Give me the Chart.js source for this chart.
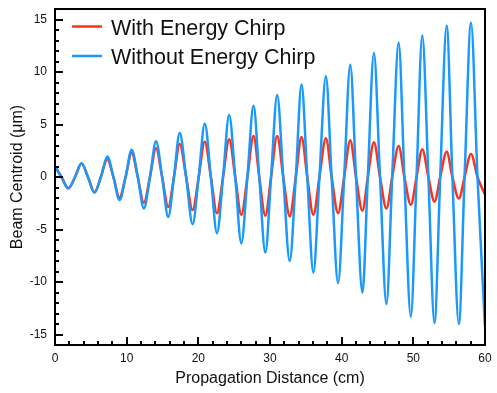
<!DOCTYPE html>
<html>
<head>
<meta charset="utf-8">
<script src="https://cdn.jsdelivr.net/npm/chart.js@4"></script>
<style>
  html, body { margin: 0; padding: 0; background: #fff; }
  #wrap { width: 497px; height: 393px; }
</style>
</head>
<body>
<div id="wrap"><canvas id="chart"></canvas></div>
<script>
// propagation distance (cm) at extrema and zero crossings
const distance = [0, 0.9, 1.86, 2.8, 3.7, 4.6, 5.5, 6.4, 7.3, 8.15,
  9.0, 9.85, 10.7, 11.55, 12.4, 13.25, 14.1, 14.95, 15.8, 16.6,
  17.4, 18.3, 19.2, 20.05, 20.9, 21.75, 22.6, 23.45, 24.3, 25.15,
  26.0, 26.85, 27.7, 28.5, 29.35, 30.15, 31.0, 31.85, 32.75, 33.6,
  34.4, 35.2, 36.05, 36.9, 37.8, 38.6, 39.5, 40.35, 41.2, 42.0,
  42.9, 43.65, 44.5, 45.35, 46.25, 47.05, 47.95, 48.75, 49.65, 50.45,
  51.25, 52.1, 52.95, 53.75, 54.65, 55.45, 56.35, 57.15, 58.05, 58.95, 60];

// beam centroid (um)
const withChirp = [1.0, 0, -1.08, 0, 1.28, 0, -1.45, 0, 1.7, 0,
  -1.97, 0, 2.3, 0, -2.45, 0, 2.75, 0, -2.85, 0,
  3.15, 0, -3.15, 0, 3.35, 0, -3.45, 0, 3.6, 0,
  -3.6, 0, 3.9, 0, -3.7, 0, 3.9, 0, -3.75, 0,
  3.8, 0, -3.6, 0, 3.7, 0, -3.45, 0, 3.5, 0,
  -3.2, 0, 3.3, 0, -3.0, 0, 2.95, 0, -2.65, 0,
  2.65, 0, -2.35, 0, 2.4, 0, -2.05, 0, 2.2, 0, -1.7];

const withoutChirp = [1.0, 0, -1.08, 0, 1.3, 0, -1.5, 0, 1.95, 0,
  -2.2, 0, 2.6, 0, -3.0, 0, 3.4, 0, -3.8, 0,
  4.2, 0, -4.5, 0, 5.1, 0, -5.35, 0, 5.9, 0,
  -6.3, 0, 6.8, 0, -7.2, 0, 7.8, 0, -8.0, 0,
  8.8, 0, -9.1, 0, 9.6, 0, -10.1, 0, 10.7, 0,
  -11.0, 0, 11.8, 0, -12.1, 0, 12.8, 0, -13.3, 0,
  13.5, 0, -13.9, 0, 14.4, 0, -14.0, 0, 14.7, 0, -14.3];

const yTicks = [-15, -10, -5, 0, 5, 10, 15];
const xTicks = [0, 10, 20, 30, 40, 50, 60];

const redColor = '#ff3219';
const blueColor = '#1a98fc';
const fontFamily = '"Liberation Sans", Arial, Helvetica, sans-serif';

function toPoints(ys) {
  return distance.map((x, i) => ({x: x, y: ys[i]}));
}

// frame, inward ticks and the legend inside the plot
const framePlugin = {
  id: 'frame',
  afterDraw(chart) {
    const ctx = chart.ctx;
    const a = chart.chartArea;
    const xs = chart.scales.x;
    const ys = chart.scales.y;
    ctx.save();
    ctx.strokeStyle = '#000';
    ctx.lineWidth = 2;
    ctx.strokeRect(a.left, a.top, a.right - a.left, a.bottom - a.top);

    ctx.beginPath();
    for (let v = -15; v <= 15; v++) {
      const len = v % 5 === 0 ? 8 : 4;
      const py = Math.round(ys.getPixelForValue(v));
      ctx.moveTo(a.left, py);
      ctx.lineTo(a.left + len, py);
    }
    for (let v = 2; v < 60; v += 2) {
      const len = v % 10 === 0 ? 8 : 4;
      const px = Math.round(xs.getPixelForValue(v));
      ctx.moveTo(px, a.bottom);
      ctx.lineTo(px, a.bottom - len);
    }
    ctx.stroke();

    // legend
    const entries = [chart.data.datasets[0], chart.data.datasets[1]];
    const rows = [{lineY: 26.5, textY: 35}, {lineY: 56, textY: 63.5}];
    ctx.font = '21.5px ' + fontFamily;
    ctx.textBaseline = 'alphabetic';
    ctx.textAlign = 'left';
    entries.forEach((ds, i) => {
      ctx.strokeStyle = ds.borderColor;
      ctx.lineWidth = 2.5;
      ctx.beginPath();
      ctx.moveTo(72, rows[i].lineY);
      ctx.lineTo(102, rows[i].lineY);
      ctx.stroke();
      ctx.fillStyle = '#111';
      ctx.fillText(ds.label, 111, rows[i].textY);
    });
    ctx.restore();
  }
};

const chart = new Chart(document.getElementById('chart'), {
  type: 'line',
  data: {
    datasets: [{
      label: 'With Energy Chirp',
      data: toPoints(withChirp),
      borderColor: redColor,
      backgroundColor: redColor,
      borderWidth: 2.5,
      pointRadius: 0,
      cubicInterpolationMode: 'monotone',
      order: 1
    },
    {
      label: 'Without Energy Chirp',
      data: toPoints(withoutChirp),
      borderColor: blueColor,
      backgroundColor: blueColor,
      borderWidth: 2.5,
      pointRadius: 0,
      cubicInterpolationMode: 'monotone',
      order: 0
    }]
  },
  options: {
    responsive: true,
    maintainAspectRatio: false,
    animation: false,
    events: [],
    layout: {
      padding: {top: 9, right: 12, left: 0, bottom: 0}
    },
    plugins: {
      legend: {display: false},
      tooltip: {enabled: false}
    },
    scales: {
      x: {
        type: 'linear',
        min: 0,
        max: 60,
        grid: {display: false, drawTicks: false},
        border: {display: false},
        afterBuildTicks(scale) { scale.ticks = xTicks.map(v => ({value: v})); },
        ticks: {
          padding: 6,
          color: '#111',
          font: {family: fontFamily, size: 12}
        },
        title: {
          display: true,
          text: 'Propagation Distance (cm)',
          color: '#111',
          font: {family: fontFamily, size: 16},
          padding: {top: 0, bottom: 5}
        },
        afterFit(scale) {
          scale.height = 48;
          scale.paddingLeft = 0;
          scale.paddingRight = 0;
        }
      },
      y: {
        type: 'linear',
        min: -16,
        max: 16,
        grid: {display: false, drawTicks: false},
        border: {display: false},
        afterBuildTicks(scale) { scale.ticks = yTicks.map(v => ({value: v})); },
        ticks: {
          padding: 8,
          color: '#111',
          font: {family: fontFamily, size: 12}
        },
        title: {
          display: true,
          text: 'Beam Centroid (μm)',
          color: '#111',
          font: {family: fontFamily, size: 16},
          padding: {top: 8, bottom: 0}
        },
        afterFit(scale) {
          scale.width = 55;
          scale.paddingTop = 0;
          scale.paddingBottom = 0;
        }
      }
    }
  },
  plugins: [framePlugin]
});
</script>
</body>
</html>
